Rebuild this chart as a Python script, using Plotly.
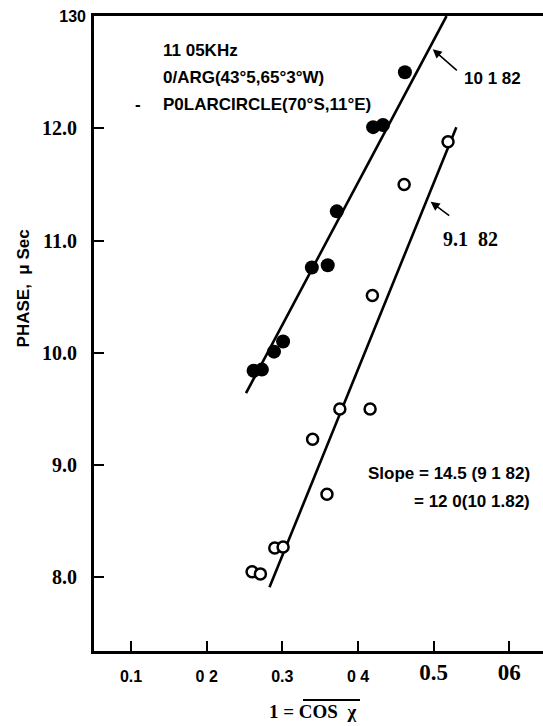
import plotly.graph_objects as go

# ---- data ----
filled_x = [0.262, 0.273, 0.289, 0.301, 0.339, 0.360, 0.372, 0.420, 0.433, 0.462]   # 10 1 82
filled_y = [9.84, 9.85, 10.01, 10.10, 10.76, 10.78, 11.26, 12.01, 12.03, 12.50]
open_x = [0.260, 0.271, 0.290, 0.301, 0.340, 0.359, 0.376, 0.416, 0.419, 0.461, 0.519]  # 9 1 82
open_y = [8.05, 8.03, 8.26, 8.27, 9.23, 8.74, 9.50, 9.50, 10.51, 11.50, 11.88]
fit_filled_x = [0.252, 0.517]
fit_filled_y = [9.64, 13.0]
fit_open_x = [0.283, 0.530]
fit_open_y = [7.91, 12.01]

# tick labels (the scan mixes a sans face and a serif face)
x_sans_vals = [0.1, 0.2, 0.3, 0.4]
x_sans_text = ["0.1", "0 2", "0.3", "0 4"]
x_serif_vals = [0.5, 0.6]
x_serif_text = ["0.5", "06"]
y_serif_vals = [8, 9, 10, 11, 12]
y_serif_text = ["8.0", "9.0", "10.0", "11.0", "12.0"]
y_sans_vals = [13]
y_sans_text = ["130"]

SANS = "Liberation Sans, Arial, sans-serif"
SERIF = "Liberation Serif, Times New Roman, serif"
X_RANGE = [0.0511, 0.6445]
Y_RANGE = [7.343, 13.0005]

fig = go.Figure()
fig.add_trace(go.Scatter(x=fit_filled_x, y=fit_filled_y, mode="lines",
                         line=dict(color="black", width=2.6), showlegend=False))
fig.add_trace(go.Scatter(x=fit_open_x, y=fit_open_y, mode="lines",
                         line=dict(color="black", width=2.6), showlegend=False))
fig.add_trace(go.Scatter(x=filled_x, y=filled_y, mode="markers",
                         marker=dict(symbol="circle", size=14, color="black",
                                     line=dict(color="black", width=0)),
                         showlegend=False, cliponaxis=False))
fig.add_trace(go.Scatter(x=open_x, y=open_y, mode="markers",
                         marker=dict(symbol="circle", size=11, color="white",
                                     line=dict(color="black", width=2.5)),
                         showlegend=False, cliponaxis=False))
# invisible trace so the overlaid tick-label axes are drawn
fig.add_trace(go.Scatter(x=fit_open_x, y=fit_open_y, xaxis="x2", yaxis="y2",
                         mode="lines", line=dict(width=0, color="rgba(0,0,0,0)"),
                         opacity=0, hoverinfo="skip", showlegend=False))

ann = []
for txt, yy in [("11 05KHz", 12.697), ("0/ARG(43°5,65°3°W)", 12.457),
                ("P0LARCIRCLE(70°S,11°E)", 12.216)]:
    ann.append(dict(x=0.1397, y=yy, xref="x", yref="y", text=f"<b>{txt}</b>",
                    showarrow=False, xanchor="left", yanchor="middle",
                    font=dict(family=SANS, size=17, color="black")))
ann.append(dict(x=0.1099, y=12.216, xref="x", yref="y", text="<b>-</b>",
                showarrow=False, xanchor="center", yanchor="middle",
                font=dict(family=SANS, size=17, color="black")))
ann.append(dict(x=0.4988, y=12.704, ax=0.5326, ay=12.504, xref="x", yref="y",
                axref="x", ayref="y", text="", showarrow=True, arrowhead=2,
                arrowsize=1.2, arrowwidth=1.5, arrowcolor="black"))
ann.append(dict(x=0.578, y=12.448, xref="x", yref="y", text="<b>10 1 82</b>",
                showarrow=False, xanchor="center", yanchor="middle",
                font=dict(family=SANS, size=17, color="black")))
ann.append(dict(x=0.496, y=11.346, ax=0.5225, ay=11.2125, xref="x", yref="y",
                axref="x", ayref="y", text="", showarrow=True, arrowhead=2,
                arrowsize=1.2, arrowwidth=1.5, arrowcolor="black"))
ann.append(dict(x=0.549, y=11.014, xref="x", yref="y", text="<b>9.1  82</b>",
                showarrow=False, xanchor="center", yanchor="middle",
                font=dict(family=SERIF, size=20, color="black")))
ann.append(dict(x=0.630, y=8.926, xref="x", yref="y", text="<b>Slope = 14.5 (9 1 82)</b>",
                showarrow=False, xanchor="right", yanchor="middle",
                font=dict(family=SANS, size=17, color="black")))
ann.append(dict(x=0.630, y=8.673, xref="x", yref="y", text="<b>= 12 0(10 1.82)</b>",
                showarrow=False, xanchor="right", yanchor="middle",
                font=dict(family=SANS, size=17, color="black")))
ann.append(dict(x=(23 - 94) / 449, y=0.571, xref="paper", yref="paper",
                text="<b>PHASE,  μ Sec</b>",
                showarrow=False, xanchor="center", yanchor="middle", textangle=-90,
                font=dict(family=SANS, size=17, color="black")))
ann.append(dict(x=(312 - 94) / 449, y=(651 - 711) / 635, xref="paper", yref="paper",
                text="<b>1 = COS  χ</b>",
                showarrow=False, xanchor="center", yanchor="middle",
                font=dict(family=SERIF, size=19, color="black")))

shapes = [dict(type="line", xref="paper", yref="paper",
               x0=(303 - 94) / 449, x1=(360 - 94) / 449,
               y0=(651 - 700) / 635, y1=(651 - 700) / 635,
               line=dict(color="black", width=2))]

tick_common = dict(ticks="inside", ticklen=10, tickwidth=2, tickcolor="black",
                   showgrid=False, zeroline=False)

fig.update_layout(
    width=543, height=726,
    margin=dict(l=94, r=0, t=16, b=75, pad=0),
    paper_bgcolor="white", plot_bgcolor="white",
    annotations=ann, shapes=shapes,
    xaxis=dict(range=X_RANGE, tickvals=x_sans_vals,
               ticktext=[f"<b>{t}</b>" for t in x_sans_text],
               showline=True, linecolor="black", linewidth=3, mirror=True,
               ticklabelstandoff=9,
               tickfont=dict(family=SANS, size=16, color="black"), **tick_common),
    xaxis2=dict(range=X_RANGE, tickvals=x_serif_vals,
                ticktext=[f"<b>{t}</b>" for t in x_serif_text],
                overlaying="x", anchor="y", side="bottom", showline=False,
                ticklabelstandoff=5,
                tickfont=dict(family=SERIF, size=23, color="black"), **tick_common),
    yaxis=dict(range=Y_RANGE, tickvals=y_serif_vals,
               ticktext=[f"<b>{t}</b>" for t in y_serif_text],
               showline=True, linecolor="black", linewidth=3, mirror=False,
               ticklabelstandoff=10,
               tickfont=dict(family=SERIF, size=20, color="black"), **tick_common),
    yaxis2=dict(range=Y_RANGE, tickvals=y_sans_vals,
                ticktext=[f"<b>{t}</b>" for t in y_sans_text],
                overlaying="y", anchor="x", side="left", showline=False,
                ticklabelstandoff=7,
                tickfont=dict(family=SANS, size=16, color="black"), **tick_common),
)

fig.write_html("out.html")
